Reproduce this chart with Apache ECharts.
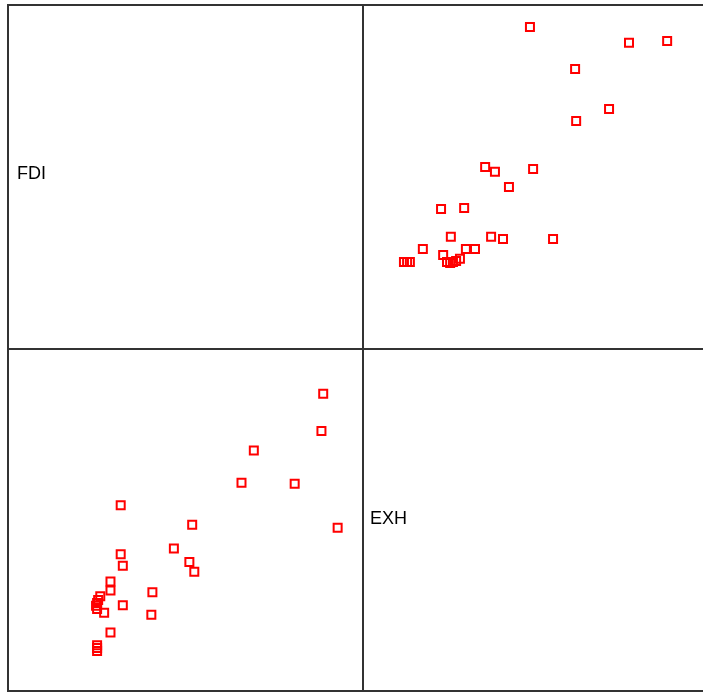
<!DOCTYPE html>
<html>
<head>
<meta charset="utf-8">
<script src="https://cdn.jsdelivr.net/npm/echarts@6/dist/echarts.min.js"></script>
<style>
  html, body { margin: 0; padding: 0; background: #ffffff; overflow: hidden; }
  #chart { width: 730px; height: 693px; }
</style>
</head>
<body>
<div id="chart"></div>
<script>
// Scatterplot matrix of FDI against EXH (relative units)
var variables = ['FDI', 'EXH'];

var fdi = [93.6, 89.0, 89.5, 81.4, 69.8, 66.3, 52.9, 51.5, 52.3, 47.1,
           40.7, 41.0, 32.6, 32.6, 32.0, 32.0, 29.1, 29.1, 29.1, 27.3,
           25.3, 25.0, 25.3, 25.6, 26.2, 25.3, 25.3, 25.3];
var exh = [47.7, 76.0, 86.9, 60.6, 70.3, 60.9, 34.9, 37.7, 48.6, 41.7,
           22.3, 28.9, 25.1, 36.6, 40.0, 54.3, 17.1, 29.4, 32.0, 22.9,
           24.0, 24.9, 25.7, 26.6, 27.7, 11.7, 12.6, 13.4];

// axis extents per variable (FDI gets a little extra room on the horizontal axis)
var fdiRangeV = { min: 0, max: 100 };
var fdiRangeH = { min: 0, max: 100.8 };
var exhRange = { min: 0, max: 100 };

var pairsExhFdi = exh.map(function (v, i) { return [v, fdi[i]]; });
var pairsFdiExh = fdi.map(function (v, i) { return [v, exh[i]]; });

var frame = { show: true, borderColor: '#333333', borderWidth: 2, backgroundColor: 'transparent' };
function cell(left, top, width, height) {
  return Object.assign({ left: left, top: top, width: width, height: height }, frame);
}
function hiddenAxis(gridIndex, range) {
  return { type: 'value', gridIndex: gridIndex, min: range.min, max: range.max, show: false };
}

var markerStyle = {
  type: 'scatter',
  symbol: 'rect',
  symbolSize: 8,
  itemStyle: { color: 'rgba(255,255,255,0)', borderColor: '#ff0000', borderWidth: 2, opacity: 1 },
  emphasis: { disabled: true },
  silent: true
};

var labelFont = '18px "Liberation Sans", Arial, sans-serif';

var chart = echarts.init(document.getElementById('chart'), null, { renderer: 'canvas' });
chart.setOption({
  animation: false,
  backgroundColor: '#ffffff',
  grid: [
    cell(8, 5, 355, 344),     // top-left: FDI label
    cell(363, 5, 350, 344),   // top-right: EXH vs FDI
    cell(8, 349, 355, 342),   // bottom-left: FDI vs EXH
    cell(363, 349, 350, 342)  // bottom-right: EXH label
  ],
  xAxis: [hiddenAxis(0, exhRange), hiddenAxis(1, exhRange), hiddenAxis(2, fdiRangeH), hiddenAxis(3, exhRange)],
  yAxis: [hiddenAxis(0, fdiRangeV), hiddenAxis(1, fdiRangeV), hiddenAxis(2, exhRange), hiddenAxis(3, exhRange)],
  series: [
    Object.assign({ name: 'EXH-FDI', xAxisIndex: 1, yAxisIndex: 1, data: pairsExhFdi }, markerStyle),
    Object.assign({ name: 'FDI-EXH', xAxisIndex: 2, yAxisIndex: 2, data: pairsFdiExh }, markerStyle)
  ],
  graphic: [
    { type: 'text', left: 17, top: 165, style: { text: variables[0], font: labelFont, fill: '#000000' } },
    { type: 'text', left: 370, top: 510, style: { text: variables[1], font: labelFont, fill: '#000000' } }
  ]
});
</script>
</body>
</html>
